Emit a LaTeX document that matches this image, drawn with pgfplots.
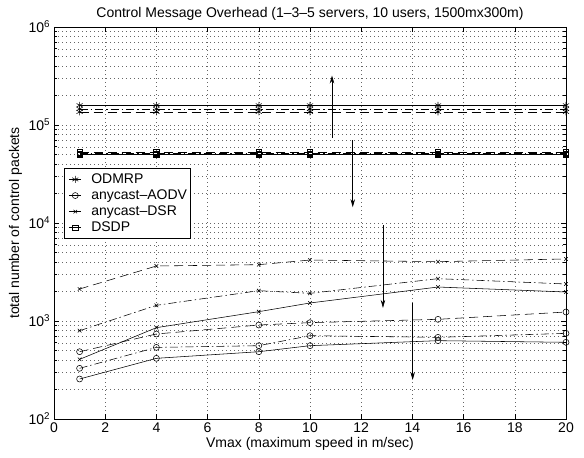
\documentclass[border=0pt]{standalone}
\usepackage{fontspec}
\setmainfont{Liberation Sans}
\usepackage{pgfplots}
\pgfplotsset{compat=1.18}
\usetikzlibrary{arrows.meta}
\begin{document}
\fontsize{14bp}{16bp}\selectfont
\begin{tikzpicture}
\begin{axis}[
  scale only axis, width=512bp, height=392bp,
  at={(0,0)}, anchor=south west,
  ymode=log, xmin=0, xmax=20, ymin=1e2, ymax=1e6,
  xtick={0,2,...,20},
  ytick={1e2,1e3,1e4,1e5,1e6},
  yticklabels={10\textsuperscript{2},10\textsuperscript{3},10\textsuperscript{4},10\textsuperscript{5},10\textsuperscript{6}},
  xmajorgrids, ymajorgrids, yminorgrids,
  grid style={black!60, line width=0.4bp, dash pattern=on 0.7bp off 3.3bp},
  minor grid style={black!60, line width=0.4bp, dash pattern=on 0.7bp off 3.3bp},
  tick align=inside,
  major tick length=5bp, minor tick length=3bp,
  axis line style={line width=0.6bp},
  every tick/.style={black, line width=0.5bp},
  /pgf/number format/assume math mode=true,
  tick label style={font=\fontsize{14bp}{16bp}\selectfont},
  xticklabel style={yshift=1bp},
  yticklabel style={xshift=1bp},
  title={Control Message Overhead (1–3–5 servers, 10 users, 1500mx300m)},
  title style={yshift=-4bp},
  xlabel={Vmax (maximum speed in m/sec)},
  ylabel={total number of control packets},
  xlabel style={yshift=5bp},
  ylabel style={yshift=-3bp},
  legend style={at={(0.0195,0.640)}, anchor=north west, draw=black, line width=0.6bp,
    fill=white, inner xsep=1bp, inner ysep=3bp, row sep=0bp,
    cells={anchor=west, inner ysep=0.3bp, text height=10bp, text depth=3bp},
    font=\fontsize{14bp}{16bp}\selectfont},
  legend image code/.code={\path[draw=none,fill=none] (0bp,0bp) -- (24bp,0bp); \draw[mark repeat=2,mark phase=2] plot coordinates {(4bp,0bp) (10bp,0bp) (16bp,0bp)};},
  every axis plot/.append style={black, line width=0.55bp, mark options={solid}},
]
% ODMRP
\addplot[mark=asterisk, mark size=3.5bp] coordinates {(1,1.59e5) (4,1.59e5) (8,1.59e5) (10,1.59e5) (15,1.59e5) (20,1.59e5)};
\addlegendentry{ODMRP}
% anycast-AODV
\addplot[mark=o, mark size=3bp] coordinates {(1,256) (4,416) (8,486) (10,560) (15,630) (20,606)};
\addlegendentry{anycast–AODV}
% anycast-DSR
\addplot[mark=x, mark size=2.5bp] coordinates {(1,406) (4,855) (8,1245) (10,1527) (15,2222) (20,1977)};
\addlegendentry{anycast–DSR}
% DSDP
\addplot[mark=square, mark size=2.7bp] coordinates {(1,5.0e4) (4,5.0e4) (8,5.0e4) (10,5.0e4) (15,5.0e4) (20,5.0e4)};
\addlegendentry{DSDP}
% dash-dot (3 servers)
\addplot[forget plot, mark=asterisk, mark size=3.5bp, dash pattern=on 8bp off 3bp on 1.5bp off 3bp] coordinates {(1,1.46e5) (4,1.46e5) (8,1.46e5) (10,1.46e5) (15,1.46e5) (20,1.46e5)};
\addplot[forget plot, mark=o, mark size=3bp, dash pattern=on 8bp off 3bp on 1.5bp off 3bp] coordinates {(1,329) (4,538) (8,560) (10,708) (15,681) (20,748)};
\addplot[forget plot, mark=x, mark size=2.5bp, dash pattern=on 8bp off 3bp on 1.5bp off 3bp] coordinates {(1,797) (4,1445) (8,2039) (10,1915) (15,2704) (20,2386)};
\addplot[forget plot, mark=square, mark size=2.7bp, dash pattern=on 8bp off 3bp on 1.5bp off 3bp] coordinates {(1,5.1e4) (4,5.1e4) (8,5.1e4) (10,5.1e4) (15,5.1e4) (20,5.1e4)};
% dashed (5 servers)
\addplot[forget plot, mark=asterisk, mark size=3.5bp, dash pattern=on 9bp off 5bp] coordinates {(1,1.36e5) (4,1.36e5) (8,1.36e5) (10,1.36e5) (15,1.36e5) (20,1.36e5)};
\addplot[forget plot, mark=o, mark size=3bp, dash pattern=on 9bp off 5bp] coordinates {(1,486) (4,737) (8,910) (10,962) (15,1040) (20,1235)};
\addplot[forget plot, mark=x, mark size=2.5bp, dash pattern=on 9bp off 5bp] coordinates {(1,2121) (4,3640) (8,3758) (10,4188) (15,4030) (20,4295)};
\addplot[forget plot, mark=square, mark size=2.7bp, dash pattern=on 9bp off 5bp] coordinates {(1,5.27e4) (4,5.27e4) (8,5.27e4) (10,5.27e4) (15,5.27e4) (20,5.27e4)};
% arrows
\draw[line width=0.7bp, -{Stealth[length=8bp,width=4.5bp]}] (axis cs:10.86,7.36e4) -- (axis cs:10.86,3.2e5);
\draw[line width=0.7bp, -{Stealth[length=8bp,width=4.5bp]}] (axis cs:11.67,7.0e4) -- (axis cs:11.67,1.45e4);
\draw[line width=0.7bp, -{Stealth[length=8bp,width=4.5bp]}] (axis cs:12.85,9.5e3) -- (axis cs:12.85,1360);
\draw[line width=0.7bp, -{Stealth[length=8bp,width=4.5bp]}] (axis cs:14.01,1530) -- (axis cs:14.01,250);
\end{axis}
\pgfresetboundingbox
\path (-54bp,-39bp) rectangle (530bp,419bp);
\end{tikzpicture}
\end{document}
